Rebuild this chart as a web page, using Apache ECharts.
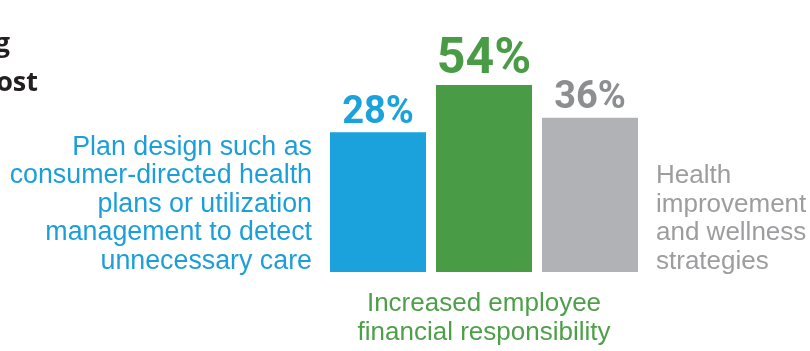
<!DOCTYPE html>
<html>
<head>
<meta charset="utf-8">
<script src="https://cdn.jsdelivr.net/npm/echarts@6/dist/echarts.min.js"></script>
<style>html,body{margin:0;padding:0;background:#fff;}#c{width:810px;height:351px;}</style>
</head>
<body>
<div id="c"></div>
<script>
var categories = [
  'Plan design such as\nconsumer-directed health\nplans or utilization\nmanagement to detect\nunnecessary care',
  'Increased employee\nfinancial responsibility',
  'Health\nimprovement\nand wellness\nstrategies'
];
var values = [28, 54, 36];
var valueLabels = ['28%', '54%', '36%'];
var titleLines = ['g', 'ost'];

var barColors = ['#1ba1dc', '#4a9b46', '#b1b2b5'];
var labelColors = ['#1ba1dc', '#4a9b46', '#8d8e91'];
var textColors = ['#1c9fd9', '#4e9f49', '#9d9d9f'];
var labelSizes = [38, 50, 38];

var chart = echarts.init(document.getElementById('c'));
var data = values.map(function (v, i) {
  return {
    value: v,
    itemStyle: { color: barColors[i] },
    label: {
      show: true, position: 'top', distance: 0,
      formatter: valueLabels[i],
      color: labelColors[i], fontSize: labelSizes[i],
      fontFamily: 'Roboto', fontWeight: 'bold'
    }
  };
});
var txt = { fontFamily: 'Liberation Sans, Arial, sans-serif', fontSize: 26, lineHeight: 28.5 };
chart.setOption({
  animation: false,
  grid: { left: 325, right: 167, top: 85, bottom: 79 },
  xAxis: { type: 'category', data: categories, show: false },
  yAxis: { type: 'value', min: -49, max: 54, startValue: -49, show: false },
  series: [{ type: 'bar', data: data, barWidth: 96 }],
  graphic: [
    { type: 'text', x: 312, y: 133, style: Object.assign({}, txt, { text: categories[0], fill: textColors[0], align: 'right', verticalAlign: 'top', fontSize: 26.8 }) },
    { type: 'text', x: 484, y: 290, style: Object.assign({ text: categories[1], fill: textColors[1], align: 'center', verticalAlign: 'top' }, txt) },
    { type: 'text', x: 656, y: 162, style: Object.assign({ text: categories[2], fill: textColors[2], align: 'left', verticalAlign: 'top' }, txt) },
    { type: 'text', x: 10, y: 31, style: { text: titleLines[0], fill: '#231f20', align: 'right', verticalAlign: 'top', fontFamily: 'Open Sans', fontWeight: 'bold', fontSize: 27 } },
    { type: 'text', x: 38, y: 70, style: { text: titleLines[1], fill: '#231f20', align: 'right', verticalAlign: 'top', fontFamily: 'Open Sans', fontWeight: 'bold', fontSize: 27 } }
  ]
});
</script>
</body>
</html>
